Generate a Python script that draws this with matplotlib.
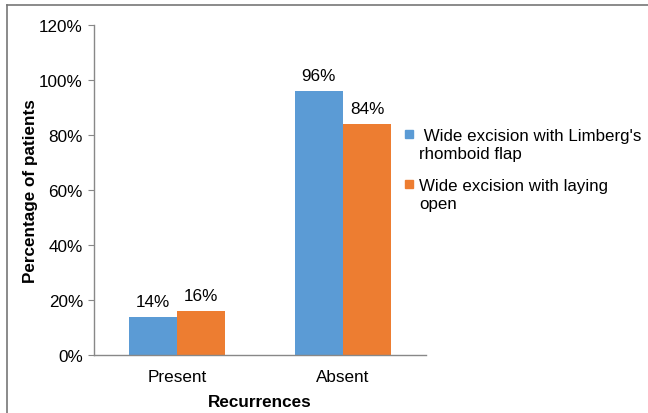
import numpy as np
import matplotlib
matplotlib.use("Agg")
import matplotlib.pyplot as plt
from matplotlib.lines import Line2D
from matplotlib.patches import Rectangle

plt.rcParams['font.family'] = ['Liberation Sans', 'DejaVu Sans']

categories = ["Present", "Absent"]
limberg = [14, 96]
laying_open = [16, 84]
series_names = [" Wide excision with Limberg's\nrhomboid flap", "Wide excision with laying\nopen"]
colors = ["#5B9BD5", "#ED7D31"]

fs = 12.3
W, H = 648, 414
fig = plt.figure(figsize=(6.48, 4.14), dpi=100)
ax = fig.add_axes([94/W, 1-356/H, (426-94)/W, (356-26)/H])

x = np.arange(len(categories))
w = 0.29
b1 = ax.bar(x - w/2, limberg, w, color=colors[0])
b2 = ax.bar(x + w/2, laying_open, w, color=colors[1])
for bars, vals in [(b1, limberg), (b2, laying_open)]:
    for b, v in zip(bars, vals):
        ax.text(b.get_x() + b.get_width()/2, v + 2.8, f"{v}%", ha='center', va='bottom', fontsize=fs)

ax.set_xlim(-0.5, 1.5)
ax.set_ylim(0, 120)
ax.set_yticks(range(0, 121, 20))
ax.set_yticklabels([f"{t}%" for t in range(0, 121, 20)], fontsize=fs)
ax.set_xticks(x)
ax.set_xticklabels(categories, fontsize=fs)
ax.tick_params(axis='x', length=0, pad=10)
ax.tick_params(axis='y', length=4, color='#888888', pad=4)
for s in ['top', 'right']:
    ax.spines[s].set_visible(False)
for s in ['left', 'bottom']:
    ax.spines[s].set_color('#888888')
    ax.spines[s].set_linewidth(1.0)

ax.set_ylabel("Percentage of patients", fontsize=fs, fontweight='bold', labelpad=1)
ax.set_xlabel("Recurrences", fontsize=fs, fontweight='bold', labelpad=7)

# legend drawn by hand: squares line up with the first text line, as in Excel
entry_top = [135, 185]
for c, name, y0 in zip(colors, series_names, entry_top):
    fig.patches.append(Rectangle((405/W, 1-(y0+4)/H), 8/W, 8/H, color=c,
                                 transform=fig.transFigure, figure=fig))
    fig.text(419/W, 1-(y0+10.5)/H, name, fontsize=12.2, va='center', ha='left',
             multialignment='left', linespacing=1.25)

fig.add_artist(Line2D([7/W, 7/W], [0, 1-6/H], color='#777777', lw=1.2))
fig.add_artist(Line2D([7/W, 1], [1-6/H, 1-6/H], color='#777777', lw=1.2))

fig.savefig("out.png", dpi=100)
